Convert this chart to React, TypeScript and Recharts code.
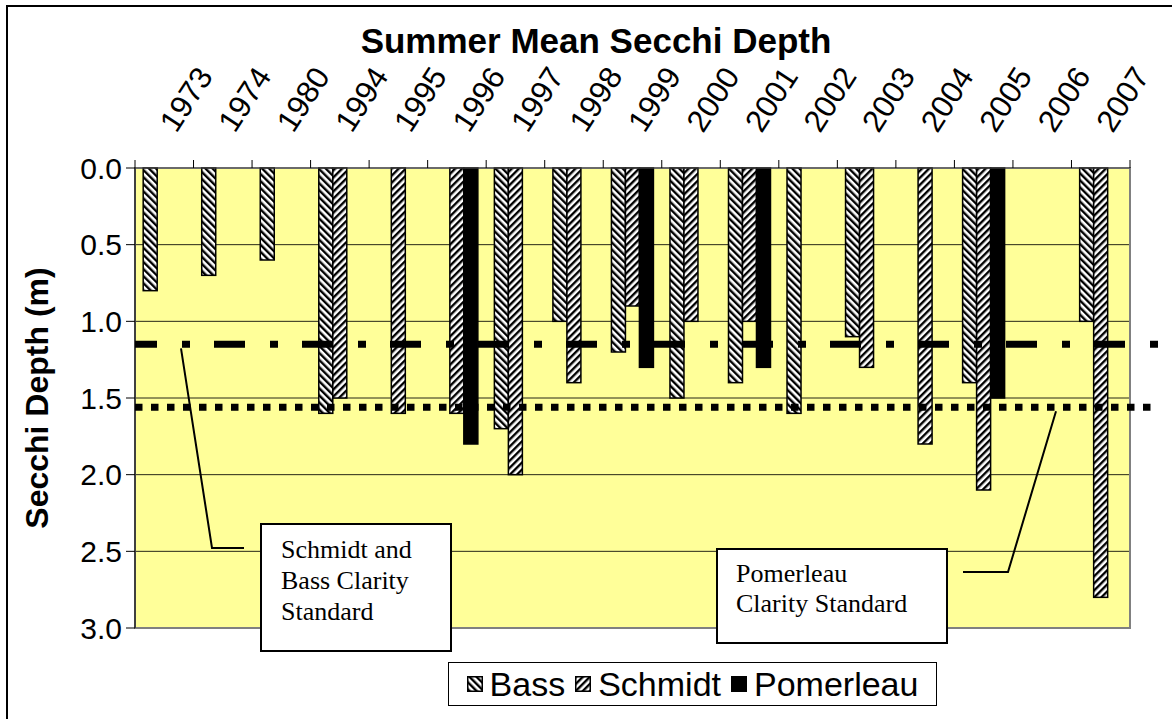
import React from 'react';
import { BarChart, Bar, XAxis, YAxis, CartesianGrid, ReferenceLine, ReferenceArea, Legend } from 'recharts';

const years = ['1973', '1974', '1980', '1994', '1995', '1996', '1997', '1998', '1999', '2000', '2001', '2002', '2003', '2004', '2005', '2006', '2007'];
const bass = [0.8, 0.7, 0.6, 1.6, null, null, 1.7, 1.0, 1.2, 1.5, 1.4, 1.6, 1.1, null, 1.4, null, 1.0];
const schmidt = [null, null, null, 1.5, 1.6, 1.6, 2.0, 1.4, 0.9, 1.0, 1.0, null, 1.3, 1.8, 2.1, null, 2.8];
const pomerleau = [null, null, null, null, null, 1.8, null, null, 1.3, null, 1.3, null, null, null, 1.5, null, null];
const seriesNames = ['Bass', 'Schmidt', 'Pomerleau'];
const depthTicks = [0, 0.5, 1, 1.5, 2, 2.5, 3];

// clarity standards (m)
const schmidtBassStandard = 1.15;
const pomerleauStandard = 1.56;

const data = years.map((year, i) => ({
  year,
  bass: bass[i],
  schmidt: schmidt[i],
  pomerleau: pomerleau[i],
}));

const SANS = '"Liberation Sans", Arial, sans-serif';
const SERIF = '"Liberation Serif", "Times New Roman", serif';

function BarShape(props: any) {
  const { x, y, width, height, fill, value } = props;
  const v = Array.isArray(value) ? value[1] : value;
  if (v == null || !height || isNaN(height)) return null;
  const top = height < 0 ? y + height : y;
  return <rect x={x} y={top} width={width} height={Math.abs(height)} fill={fill} stroke="#000" strokeWidth={1.5} />;
}

function YearTick(props: any) {
  const { x, y, payload, index } = props;
  const half = payload && payload.offset ? payload.offset : 995 / years.length / 2;
  const tx = x + 12;
  const ty = y - 26;
  return (
    <g>
      <line x1={x - half} x2={x - half} y1={y} y2={y + 8} stroke="#000" />
      {index === years.length - 1 && <line x1={x + half} x2={x + half} y1={y} y2={y + 8} stroke="#000" />}
      <text x={tx} y={ty} transform={`rotate(-57 ${tx} ${ty})`} textAnchor="start" fontFamily={SANS} fontSize={31} fill="#000">
        {payload.value}
      </text>
    </g>
  );
}

function standardLine(dash: string, dashOffset: number, leader: number[][]) {
  return (props: any) => {
    const { x1, y1, x2 } = props;
    const pts = [[leader[0][0], y1 + 4], ...leader.slice(1)].map((p) => p.join(',')).join(' ');
    return (
      <g>
        <line x1={x1} y1={y1} x2={x2 + 28} y2={y1} stroke="#000" strokeWidth={7} strokeDasharray={dash} strokeDashoffset={dashOffset} />
        <polyline points={pts} fill="none" stroke="#000" strokeWidth={2} />
      </g>
    );
  };
}

function LegendBox(props: any) {
  const items = [...(props.payload || [])].sort((a: any, b: any) => seriesNames.indexOf(a.value) - seriesNames.indexOf(b.value));
  return (
    <div
      style={{
        boxSizing: 'border-box',
        width: 489,
        height: 44,
        border: '1px solid #000',
        background: '#fff',
        display: 'flex',
        alignItems: 'center',
        justifyContent: 'center',
        fontFamily: SANS,
        fontSize: 34,
        color: '#000',
      }}
    >
      {items.map((entry: any) => (
        <span key={entry.value} style={{ display: 'flex', alignItems: 'center', margin: '0 5px' }}>
          <svg width={16} height={16} style={{ marginRight: 7 }}>
            <rect x={0.75} y={0.75} width={14.5} height={14.5} fill={entry.color} stroke="#000" strokeWidth={1.5} />
          </svg>
          {entry.value}
        </span>
      ))}
    </div>
  );
}

function YLabel(props: any) {
  const { viewBox } = props;
  const cx = viewBox.x + 27;
  const cy = viewBox.y + viewBox.height / 2;
  return (
    <text x={cx} y={cy} transform={`rotate(-90 ${cx} ${cy})`} textAnchor="middle" dominantBaseline="central" fontFamily={SANS} fontWeight="bold" fontSize={32} fill="#000">
      Secchi Depth (m)
    </text>
  );
}

const boxStyle: React.CSSProperties = {
  position: 'absolute',
  boxSizing: 'border-box',
  background: '#fff',
  border: '2px solid #000',
  fontFamily: SERIF,
  fontSize: 26,
  color: '#000',
};

export default function App() {
  return (
    <div style={{ position: 'absolute', left: 0, top: 0, width: 1172, height: 719, background: '#fff', overflow: 'hidden' }}>
      <div style={{ position: 'absolute', left: 6, top: 5, width: 1190, height: 730, border: '2px solid #000', boxSizing: 'border-box' }} />
      <div
        style={{
          position: 'absolute',
          left: 10,
          top: 25,
          width: 1172,
          textAlign: 'center',
          fontFamily: SANS,
          fontWeight: 'bold',
          fontSize: 35,
          lineHeight: '32px',
          color: '#000',
        }}
      >
        Summer Mean Secchi Depth
      </div>
      <BarChart
        width={1172}
        height={719}
        data={data}
        margin={{ top: 88, right: 42, left: 10, bottom: 91 }}
        barCategoryGap="14%"
        barGap={0}
        style={{ position: 'absolute', left: 0, top: 0 }}
      >
        <defs>
          <pattern id="bassPat" width={5} height={5} patternUnits="userSpaceOnUse" patternTransform="rotate(-45)">
            <rect width={5} height={5} fill="#fff" />
            <rect width={2.4} height={5} fill="#000" />
          </pattern>
          <pattern id="schmidtPat" width={5} height={5} patternUnits="userSpaceOnUse" patternTransform="rotate(45)">
            <rect width={5} height={5} fill="#fff" />
            <rect width={2.4} height={5} fill="#000" />
          </pattern>
        </defs>
        <CartesianGrid vertical={false} stroke="#000" strokeOpacity={0.85} fill="#FFFF99" fillOpacity={1} />
        <ReferenceArea y1={0} y2={3} fill="none" stroke="#808080" strokeWidth={2} ifOverflow="visible" />
        <XAxis
          dataKey="year"
          orientation="top"
          height={80}
          interval={0}
          tickLine={false}
          tickSize={8}
          tickMargin={0}
          tick={<YearTick />}
          axisLine={{ stroke: '#555' }}
        />
        <YAxis
          reversed
          domain={[0, 3]}
          ticks={depthTicks}
          width={125}
          tickSize={9}
          tickMargin={4}
          tickFormatter={(v: number) => v.toFixed(1)}
          tick={{ fill: '#000', fontSize: 30, fontFamily: SANS }}
          tickLine={{ stroke: '#000' }}
          axisLine={{ stroke: '#000' }}
          label={{ content: <YLabel /> }}
        />
        <Bar dataKey="bass" name={seriesNames[0]} fill="url(#bassPat)" shape={<BarShape />} isAnimationActive={false} />
        <Bar dataKey="schmidt" name={seriesNames[1]} fill="url(#schmidtPat)" shape={<BarShape />} isAnimationActive={false} />
        <Bar dataKey="pomerleau" name={seriesNames[2]} fill="#000" shape={<BarShape />} isAnimationActive={false} />
        <ReferenceLine
          y={schmidtBassStandard}
          ifOverflow="visible"
          shape={standardLine('31 25 8 24', 9, [[181, 0], [212, 548], [244, 548]])}
        />
        <ReferenceLine
          y={pomerleauStandard}
          ifOverflow="visible"
          shape={standardLine('7.5 8.5', 0, [[1056, 0], [1008, 572], [963, 572]])}
        />
        <Legend
          layout="horizontal"
          verticalAlign="middle"
          align="center"
          content={<LegendBox />}
          wrapperStyle={{ position: 'absolute', left: 448, top: 662, width: 489, height: 44 }}
        />
      </BarChart>
      <div style={{ ...boxStyle, left: 260, top: 523, width: 192, height: 129, padding: '9px 0 0 19px', lineHeight: '31px' }}>
        Schmidt and
        <br />
        Bass Clarity
        <br />
        Standard
      </div>
      <div style={{ ...boxStyle, left: 716, top: 548, width: 232, height: 96, padding: '9px 0 0 18px', lineHeight: '30px' }}>
        Pomerleau
        <br />
        Clarity Standard
      </div>
    </div>
  );
}
